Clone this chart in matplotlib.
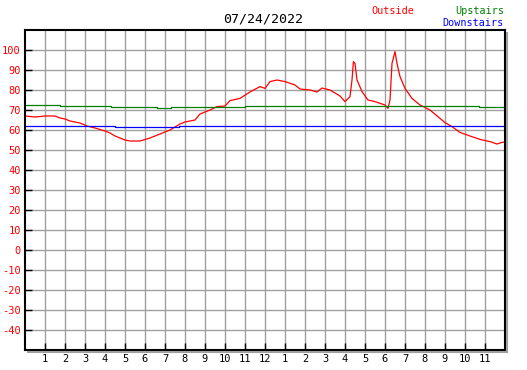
import matplotlib
matplotlib.use('Agg')
import matplotlib.pyplot as plt
from matplotlib.lines import Line2D

# outside temperature (hour of day, deg F)
out_hours = [0, 0.5, 1.0, 1.5, 1.75, 2.0, 2.25, 2.75, 3.1, 3.5, 4.0, 4.25, 4.5,
             4.75, 5.0, 5.25, 5.75, 6.25, 6.75, 7.25, 7.75, 8.0, 8.5, 8.75,
             9.25, 9.6, 10.0, 10.25, 10.75, 11.25, 11.75, 12.0, 12.25, 12.6,
             13.0, 13.5, 13.75, 14.25, 14.6, 14.85, 15.25, 15.75, 16.0, 16.25,
             16.35, 16.42, 16.5, 16.6, 16.85, 17.15, 17.5, 18.0, 18.15, 18.25,
             18.35, 18.5, 18.6, 18.75, 19.0, 19.35, 19.75, 20.25, 20.75, 21.0,
             21.35, 21.75, 22.25, 22.75, 23.25, 23.6, 23.85, 24.0]
out_temps = [67, 66.5, 67, 67, 66, 65.5, 64.5, 63.5, 62, 61, 59.5, 58.5, 57,
             56, 55, 54.5, 54.5, 56, 58, 60, 63, 64, 65, 68,
             70, 71.7, 72, 74.7, 75.8, 79, 81.7, 80.8, 84.2, 85,
             84.2, 82.5, 80.5, 80, 79, 81, 80, 77, 74.2, 76.7,
             85, 94.2, 93.3, 85, 79.2, 75, 74.2, 72.5, 70.8, 75,
             93.3, 99.2, 93.3, 86.7, 80.8, 75.8, 72.5, 70, 65.8, 63.7,
             61.7, 58.8, 57, 55.3, 54.2, 53, 53.8, 54]

up_hours = [0, 1.75, 1.75, 4.3, 4.3, 6.6, 6.6, 7.3, 7.3, 11.0, 11.0, 22.7, 22.7, 24]
up_temps = [72.3, 72.3, 71.8, 71.8, 71.3, 71.3, 70.8, 70.8, 71.3, 71.3, 71.8, 71.8, 71.3, 71.3]

down_hours = [0, 4.5, 4.5, 7.7, 7.7, 24]
down_temps = [61.8, 61.8, 61.3, 61.3, 61.8, 61.8]

x_ticks = list(range(1, 24))
x_labels = [str(h) for h in range(1, 12)] + ['12'] + [str(h) for h in range(1, 12)]
y_ticks = list(range(-40, 101, 10))

W, H = 527, 370
fig = plt.figure(figsize=(W / 100, H / 100), dpi=100)
ax = fig.add_axes([25 / W, 20 / H, 480 / W, 320 / H])

ax.plot(out_hours, out_temps, color='red', lw=0.9)
ax.plot(up_hours, up_temps, color='green', lw=0.9)
ax.plot(down_hours, down_temps, color='blue', lw=0.9)

ax.set_xlim(0, 24)
ax.set_ylim(-50, 110)
ax.set_xticks(x_ticks)
ax.set_xticklabels(x_labels, fontsize=7.5, family='DejaVu Sans Mono')
ax.set_yticks(y_ticks)
ax.set_yticklabels([str(v) for v in y_ticks], fontsize=7.5, color='red',
                   family='DejaVu Sans Mono')
ax.tick_params(direction='in', length=5, width=1, color='black', pad=3)
ax.grid(True, color='#a0a0a0', lw=1)
ax.set_axisbelow(True)
for s in ax.spines.values():
    s.set_linewidth(1.5)
    s.set_zorder(5)

# drop shadow on right and bottom
fig.add_artist(Line2D([507 / W, 507 / W], [1 - 33 / H, 1 - 352 / H],
                      transform=fig.transFigure, color='#a0a0a0', lw=1.5))
fig.add_artist(Line2D([28 / W, 507 / W], [1 - 352 / H, 1 - 352 / H],
                      transform=fig.transFigure, color='#a0a0a0', lw=1.5))

fig.text(263 / W, 1 - 19 / H, '07/24/2022', ha='center', va='center',
         fontsize=9.5, family='DejaVu Sans Mono')
fig.text(393 / W, 1 - 11 / H, 'Outside', ha='center', va='center',
         fontsize=7.3, color='red', family='DejaVu Sans Mono')
fig.text(504 / W, 1 - 11 / H, 'Upstairs', ha='right', va='center',
         fontsize=7.3, color='green', family='DejaVu Sans Mono')
fig.text(504 / W, 1 - 23 / H, 'Downstairs', ha='right', va='center',
         fontsize=7.3, color='blue', family='DejaVu Sans Mono')

fig.savefig('out.png', dpi=100)
